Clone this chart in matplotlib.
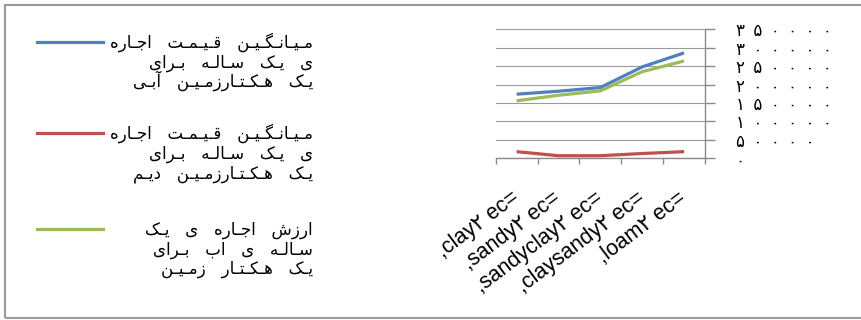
import matplotlib
matplotlib.use("Agg")
import matplotlib.pyplot as plt
from matplotlib.lines import Line2D
from matplotlib.patches import Rectangle
from matplotlib.ticker import FixedLocator

# ---------------- data ----------------
categories = [",clay۲ ec=", ",sandy۲ ec=", ",sandyclay۲ ec=", ",claysandy۲ ec=", ",loam۲ ec="]
blue_values = [174000, 182000, 192000, 248000, 286000]
red_values = [18000, 7000, 7000, 13000, 18000]
green_values = [156000, 171000, 183000, 235000, 264000]
series_labels = [
    "میانگین قیمت اجاره\nی یک ساله برای\nیک هکتارزمین آبی",
    "میانگین قیمت اجاره\nی یک ساله برای\nیک هکتارزمین دیم",
    "ارزش اجاره ی یک\nساله ی اب برای\nیک هکتار زمین",
]
y_ticks = [0, 50000, 100000, 150000, 200000, 250000, 300000, 350000]
y_tick_labels = ["۰", "۵۰۰۰۰", "۱۰۰۰۰۰", "۱۵۰۰۰۰", "۲۰۰۰۰۰", "۲۵۰۰۰۰", "۳۰۰۰۰۰", "۳۵۰۰۰۰"]
colors = ["#4F81BD", "#C0504D", "#9BBB59"]

# ------------- minimal Arabic-script shaping (matplotlib has no complex layout) -------------
DUAL = {
    "ب": "\uFE8F\uFE90\uFE91\uFE92", "ت": "\uFE95\uFE96\uFE97\uFE98",
    "ج": "\uFE9D\uFE9E\uFE9F\uFEA0", "س": "\uFEB1\uFEB2\uFEB3\uFEB4",
    "ش": "\uFEB5\uFEB6\uFEB7\uFEB8", "ق": "\uFED5\uFED6\uFED7\uFED8",
    "ک": "\uFB8E\uFB8F\uFB90\uFB91", "گ": "\uFB92\uFB93\uFB94\uFB95",
    "ل": "\uFEDD\uFEDE\uFEDF\uFEE0", "م": "\uFEE1\uFEE2\uFEE3\uFEE4",
    "ن": "\uFEE5\uFEE6\uFEE7\uFEE8", "ه": "\uFEE9\uFEEA\uFEEB\uFEEC",
    "ی": "\uFBFC\uFBFD\uFBFE\uFBFF",
}
RIGHT = {
    "ا": "\uFE8D\uFE8E", "آ": "\uFE81\uFE82", "د": "\uFEA9\uFEAA",
    "ر": "\uFEAD\uFEAE", "ز": "\uFEAF\uFEB0",
}
TATWEEL = "\u0640"


def shape_line(s, stretch=1, gap=3):
    out = []
    n = len(s)
    for i, ch in enumerate(s):
        prev = s[i - 1] if i > 0 else ""
        nxt = s[i + 1] if i + 1 < n else ""
        jp = prev in DUAL and (ch in DUAL or ch in RIGHT)
        jn = ch in DUAL and (nxt in DUAL or nxt in RIGHT)
        if ch in DUAL:
            f = DUAL[ch]
            g = f[3] if (jp and jn) else f[1] if jp else f[2] if jn else f[0]
        elif ch in RIGHT:
            g = RIGHT[ch][1] if jp else RIGHT[ch][0]
        elif ch == " ":
            g = " " * gap
        else:
            g = ch
        out.append(g)
        if jn and stretch:
            out.append(TATWEEL * stretch)
    return "".join(out)[::-1]


# ---------------- figure ----------------
W, H = 861, 320
fig = plt.figure(figsize=(W / 100, H / 100), dpi=100)
fig.patch.set_facecolor("white")

# outer border
fig.add_artist(Rectangle((5 / W, 1 - 318 / H), 1.2, (318 - 5) / H, transform=fig.transFigure,
                         fill=False, edgecolor="#9a9a9a", linewidth=1.5, clip_on=False))

x0, x1 = 495.7, 705.0
ytop, ybot = 29.3, 158.3
ax = fig.add_axes([x0 / W, 1 - ybot / H, (x1 - x0) / W, (ybot - ytop) / H])

xs = list(range(len(categories)))
for vals, c in zip([blue_values, red_values, green_values], colors):
    ax.plot(xs, vals, color=c, linewidth=2.3, solid_capstyle="butt", zorder=3)

axis_gray = "#8a8a8a"
ax.set_xlim(-0.5, len(categories) - 0.5)
ax.set_ylim(0, 350000)
for s in ["top", "left"]:
    ax.spines[s].set_visible(False)
for s in ["right", "bottom"]:
    ax.spines[s].set_color(axis_gray)
    ax.spines[s].set_linewidth(1.0)

ax.yaxis.tick_right()
ax.set_yticks(y_ticks)
ax.set_yticklabels(["\u2002".join(lbl) for lbl in y_tick_labels], family=["DejaVu Sans"], fontsize=12)
ax.tick_params(axis="y", direction="out", length=7, width=1.0, color=axis_gray, pad=15)
for t in ax.get_yticklabels():
    t.set_horizontalalignment("left")
ax.grid(axis="y", color="#9a9a9a", linewidth=0.8)
ax.set_axisbelow(True)

ax.xaxis.set_major_locator(FixedLocator([i - 0.5 for i in range(len(categories) + 1)]))
ax.tick_params(axis="x", which="major", direction="out", length=4.5, width=1.0, color=axis_gray,
               labelbottom=False)
ax.set_xticks(xs, categories, minor=True)
ax.tick_params(axis="x", which="minor", length=0, pad=27)
for t in ax.get_xticklabels(minor=True):
    t.set_rotation(37)
    t.set_rotation_mode("anchor")
    t.set_horizontalalignment("right")
    t.set_verticalalignment("center")
    t.set_fontfamily(["Liberation Sans", "DejaVu Sans"])
    t.set_fontsize(15.5)

# ---------------- legend (RTL, right aligned) ----------------
leg_rows = [42, 133, 229]
line_step = 19.5
for lbl, c, yy in zip(series_labels, colors, leg_rows):
    fig.add_artist(Line2D([37 / W, 103 / W], [1 - yy / H, 1 - yy / H], transform=fig.transFigure,
                          color=c, linewidth=2.3))
    for j, line in enumerate(lbl.split("\n")):
        fig.text(313 / W, 1 - (yy + j * line_step + 6) / H, shape_line(line), ha="right",
                 va="baseline", fontsize=12, family=["DejaVu Sans"])

fig.savefig("out.png", dpi=100, facecolor="white")
